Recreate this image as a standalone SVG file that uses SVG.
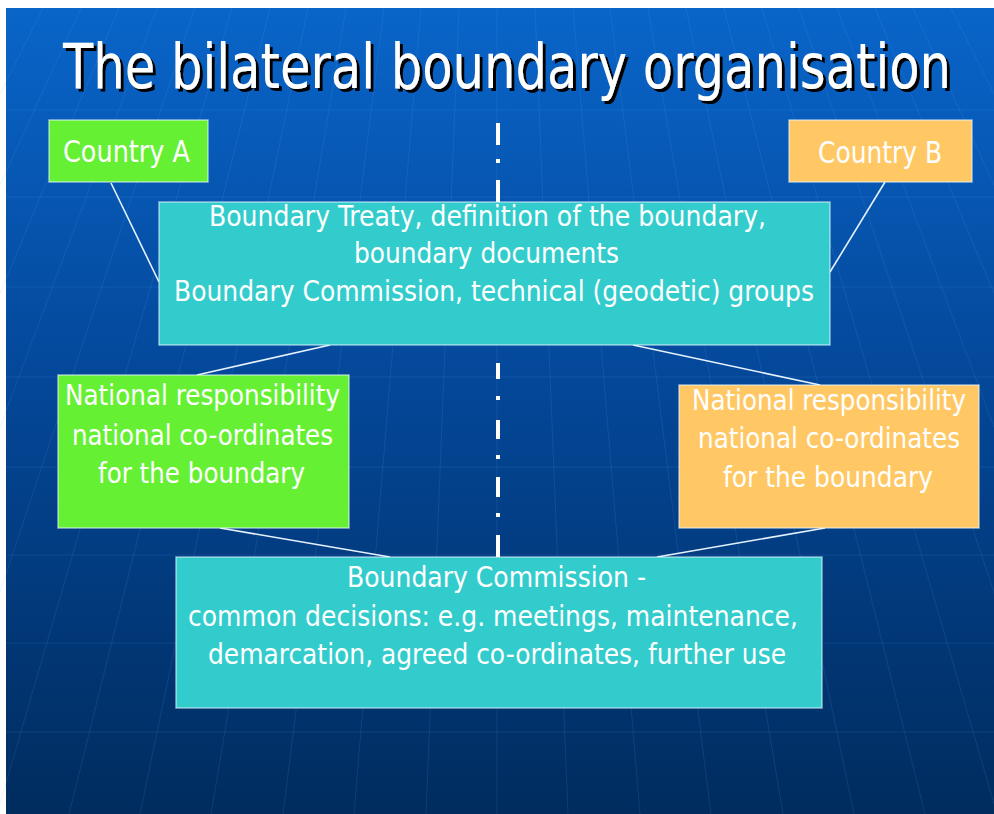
<svg xmlns="http://www.w3.org/2000/svg" width="994" height="814" viewBox="0 0 994 814">
  <defs>
    <linearGradient id="bg" x1="0" y1="0" x2="0" y2="1">
      <stop offset="0" stop-color="#0965c9"/>
      <stop offset="0.45" stop-color="#04489a"/>
      <stop offset="1" stop-color="#002c5e"/>
    </linearGradient>
    <!-- dark offset shadow behind the title -->
    <filter id="drop" x="-5%" y="-30%" width="110%" height="160%">
      <feOffset in="SourceAlpha" dx="3" dy="3" result="off"/>
      <feGaussianBlur in="off" stdDeviation="0.6" result="blur"/>
      <feFlood flood-color="#000000"/>
      <feComposite operator="in" in2="blur" result="shade"/>
      <feMerge>
        <feMergeNode in="shade"/>
        <feMergeNode in="SourceGraphic"/>
      </feMerge>
    </filter>
  </defs>
  <style>
    .grid line { stroke: #6aa8ff; stroke-width: 1; opacity: 0.13; }
    .box { stroke: #e8f6ff; stroke-opacity: 0.6; stroke-width: 1.5; }
    .green { fill: #66f033; }
    .orange { fill: #ffc864; }
    .cyan { fill: #33cccc; }
    .label { font-family: "DejaVu Sans Condensed", "DejaVu Sans", sans-serif; font-size: 29px; fill: #ffffff; }
    .country { font-size: 30px; }
    .link { stroke: #e6f2ff; stroke-width: 1.6; fill: none; }
    .border { stroke: #ffffff; stroke-width: 4; fill: none; }
  </style>

  <!-- page and slide background -->
  <rect x="0" y="0" width="994" height="814" fill="#ffffff"/>
  <rect x="6" y="8" width="988" height="806" fill="url(#bg)"/>

  <!-- faint globe grid -->
  <g class="grid">
    <line x1="6" y1="110" x2="994" y2="110"/>
    <line x1="6" y1="197" x2="994" y2="197"/>
    <line x1="6" y1="287" x2="994" y2="287"/>
    <line x1="6" y1="377" x2="994" y2="377"/>
    <line x1="6" y1="467" x2="994" y2="467"/>
    <line x1="6" y1="555" x2="994" y2="555"/>
    <line x1="6" y1="643" x2="994" y2="643"/>
    <line x1="6" y1="732" x2="994" y2="732"/>
    <line x1="497" y1="8" x2="497" y2="814"/>
    <line x1="535" y1="8" x2="568" y2="814"/>
    <line x1="573" y1="8" x2="640" y2="814"/>
    <line x1="610" y1="8" x2="711" y2="814"/>
    <line x1="648" y1="8" x2="783" y2="814"/>
    <line x1="686" y1="8" x2="854" y2="814"/>
    <line x1="724" y1="8" x2="925" y2="814"/>
    <line x1="762" y1="8" x2="997" y2="814"/>
    <line x1="799" y1="8" x2="1068" y2="814"/>
    <line x1="837" y1="8" x2="1139" y2="814"/>
    <line x1="875" y1="8" x2="1211" y2="814"/>
    <line x1="913" y1="8" x2="1282" y2="814"/>
    <line x1="951" y1="8" x2="1354" y2="814"/>
    <line x1="459" y1="8" x2="426" y2="814"/>
    <line x1="421" y1="8" x2="354" y2="814"/>
    <line x1="384" y1="8" x2="283" y2="814"/>
    <line x1="346" y1="8" x2="211" y2="814"/>
    <line x1="308" y1="8" x2="140" y2="814"/>
    <line x1="270" y1="8" x2="69" y2="814"/>
    <line x1="232" y1="8" x2="-3" y2="814"/>
    <line x1="195" y1="8" x2="-74" y2="814"/>
    <line x1="157" y1="8" x2="-145" y2="814"/>
    <line x1="119" y1="8" x2="-217" y2="814"/>
    <line x1="81" y1="8" x2="-288" y2="814"/>
    <line x1="43" y1="8" x2="-360" y2="814"/>
  </g>

  <!-- title: condensed face, stretched a little upright -->
  <g id="title" transform="translate(63 88) scale(1 1.12)">
    <text x="0" y="0" font-family="DejaVu Sans Condensed, DejaVu Sans, sans-serif" font-size="55" fill="#ffffff" filter="url(#drop)" textLength="888" lengthAdjust="spacingAndGlyphs">The bilateral boundary organisation</text>
  </g>

  <!-- connectors and the dash-dot border line -->
  <g id="connectors">
    <line class="link" x1="111" y1="183" x2="159" y2="282" stroke-width="1.2"/>
    <line class="link" x1="885" y1="182" x2="830" y2="272" stroke-width="1.2"/>
    <line class="link" x1="330" y1="345" x2="197" y2="375"/>
    <line class="link" x1="633" y1="345" x2="820" y2="385"/>
    <line class="link" x1="220" y1="528" x2="390" y2="557"/>
    <line class="link" x1="825" y1="528" x2="657" y2="557"/>
    <path class="border" d="M498 123V145 M498 159V163 M498 180V202 M498 363V379 M498 396V400 M498 420V439 M498 455V459 M498 477V497 M498 513V517 M498 535V557"/>
  </g>

  <g id="country-a">
    <rect class="box green" x="49" y="120" width="159" height="62"/>
    <text class="label country" x="63" y="162" textLength="127" lengthAdjust="spacingAndGlyphs">Country A</text>
  </g>

  <g id="country-b">
    <rect class="box orange" x="789" y="120" width="183" height="62"/>
    <text class="label country" x="818" y="163" textLength="124" lengthAdjust="spacingAndGlyphs">Country B</text>
  </g>

  <g id="treaty">
    <rect class="box cyan" x="159" y="202" width="671" height="143"/>
    <text class="label" x="209" y="226" textLength="557" lengthAdjust="spacingAndGlyphs">Boundary Treaty, definition of the boundary,</text>
    <text class="label" x="354" y="263" textLength="265" lengthAdjust="spacingAndGlyphs">boundary documents</text>
    <text class="label" x="174" y="301" textLength="640" lengthAdjust="spacingAndGlyphs">Boundary Commission, technical (geodetic) groups</text>
  </g>

  <g id="national-a">
    <rect class="box green" x="58" y="375" width="291" height="153"/>
    <text class="label" x="65" y="405" textLength="275" lengthAdjust="spacingAndGlyphs">National responsibility</text>
    <text class="label" x="72" y="445" textLength="261" lengthAdjust="spacingAndGlyphs">national co-ordinates</text>
    <text class="label" x="98" y="483" textLength="207" lengthAdjust="spacingAndGlyphs">for the boundary</text>
  </g>

  <g id="national-b">
    <rect class="box orange" x="679" y="385" width="300" height="143"/>
    <text class="label" x="692" y="410" textLength="274" lengthAdjust="spacingAndGlyphs">National responsibility</text>
    <text class="label" x="698" y="448" textLength="262" lengthAdjust="spacingAndGlyphs">national co-ordinates</text>
    <text class="label" x="723" y="487" textLength="210" lengthAdjust="spacingAndGlyphs">for the boundary</text>
  </g>

  <g id="commission">
    <rect class="box cyan" x="176" y="557" width="646" height="151"/>
    <text class="label" x="347" y="587" textLength="299" lengthAdjust="spacingAndGlyphs">Boundary Commission -</text>
    <text class="label" x="188" y="626" textLength="610" lengthAdjust="spacingAndGlyphs">common decisions: e.g. meetings, maintenance,</text>
    <text class="label" x="208" y="664" textLength="578" lengthAdjust="spacingAndGlyphs">demarcation, agreed co-ordinates, further use</text>
  </g>
</svg>
